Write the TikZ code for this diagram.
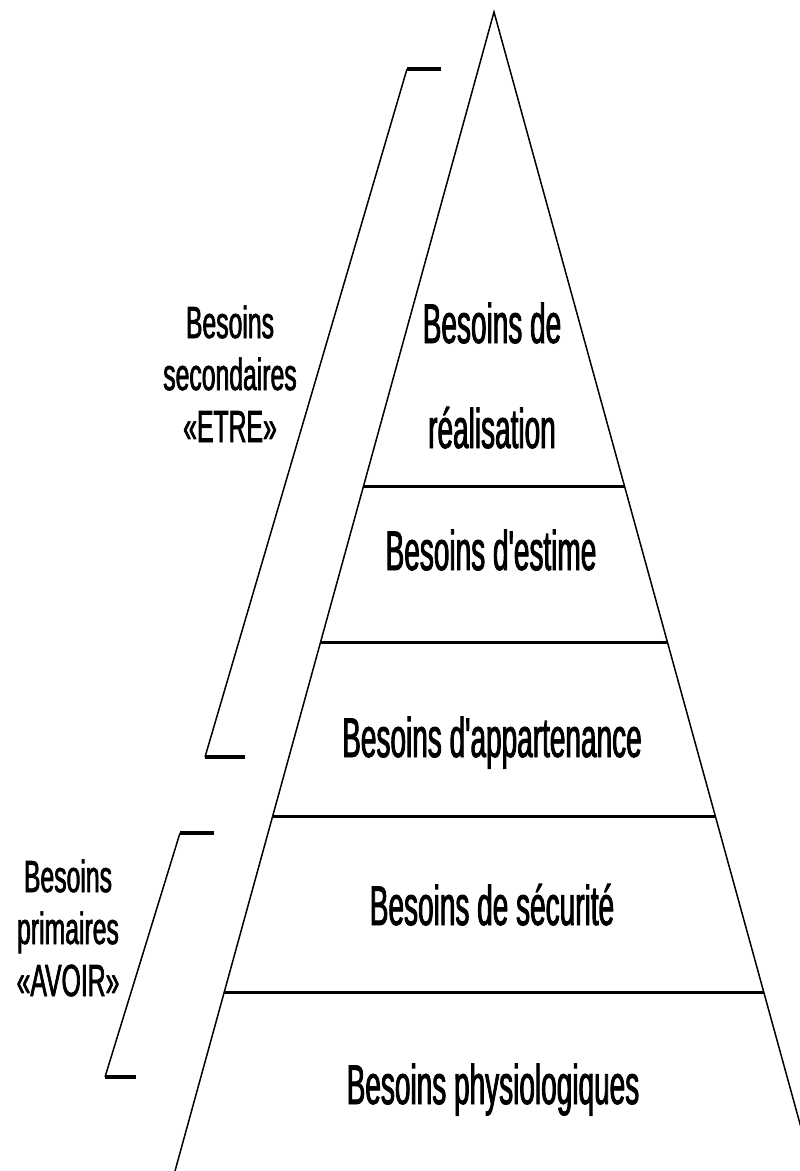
\documentclass[tikz,border=0pt]{standalone}
\usepackage{fontspec}
\usetikzlibrary{calc}
\newfontfamily\bigfnt[FakeStretch=0.5,FakeBold=1.5]{Liberation Sans}
\newfontfamily\smallfnt[FakeStretch=0.55,FakeBold=1.5]{Liberation Sans}
\begin{document}
\begin{tikzpicture}[x=1pt,y=-1pt,
  side/.style={line width=1.5pt},
  tier/.style={line width=3pt},
  brk/.style={line width=1.5pt},
  tick/.style={line width=3.5pt},
  maintxt/.style={font=\bigfnt\fontsize{56}{105}\selectfont, inner sep=0pt, align=center, anchor=base},
  sidetxt/.style={font=\smallfnt\fontsize{45}{52}\selectfont, inner sep=0pt, align=center, anchor=base}]
\useasboundingbox (0,0) rectangle (800,1171);
\clip (0,0) rectangle (800,1171);
% pyramid
\coordinate (apex) at (494,12);
\coordinate (bl) at (175,1171);
\coordinate (br) at (813,1171);
\draw[side] (bl) -- (apex) -- (br);
\foreach \n/\f in {1/0.409,2/0.5444,3/0.6937,4/0.8456} {
  \coordinate (l\n) at ($(apex)!\f!(bl)$);
  \coordinate (r\n) at ($(apex)!\f!(br)$);
  \draw[tier] (l\n) -- (r\n);
}
% upper bracket
\coordinate (ua) at (441,69);
\coordinate (ub) at (407,69);
\coordinate (uc) at (205,757);
\coordinate (ud) at (245,757);
\draw[tick] (ua) -- (ub);
\draw[brk] (ub) -- (uc);
\draw[tick] (uc) -- (ud);
% lower bracket
\coordinate (la) at (214,833);
\coordinate (lb) at (180,833);
\coordinate (lc) at (105,1077);
\coordinate (ld) at (136,1077);
\draw[tick] (la) -- (lb);
\draw[brk] (lb) -- (lc);
\draw[tick] (lc) -- (ld);
% texts (base anchor = baseline of the last line)
\node[maintxt] (realisation) at (492,448) {Besoins de\\réalisation};
\node[maintxt] (estime) at (491,570) {Besoins d'estime};
\node[maintxt] (appartenance) at (492,757) {Besoins d'appartenance};
\node[maintxt] (securite) at (492,925) {Besoins de sécurité};
\node[maintxt] (physio) at (493,1104) {Besoins physiologiques};
\node[sidetxt] (etre) at (230,442) {Besoins\\secondaires\\«ETRE»};
\node[sidetxt] (avoir) at (68,996) {Besoins\\primaires\\«AVOIR»};
\end{tikzpicture}
\end{document}
